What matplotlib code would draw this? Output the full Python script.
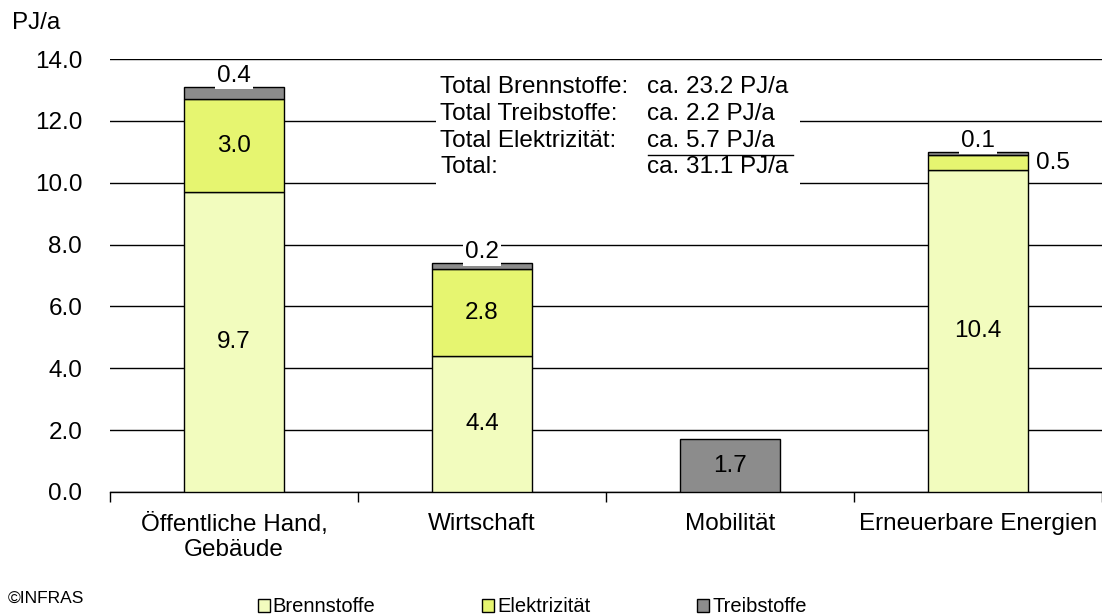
import numpy as np
import matplotlib.pyplot as plt
from matplotlib.patches import Rectangle

plt.rcParams['font.family'] = ['Liberation Sans', 'DejaVu Sans']

# Data
categories = ['Öffentliche Hand,\nGebäude', 'Wirtschaft', 'Mobilität', 'Erneuerbare Energien']
brennstoffe = [9.7, 4.4, 0.0, 10.4]
elektrizitaet = [3.0, 2.8, 0.0, 0.5]
treibstoffe = [0.4, 0.2, 1.7, 0.1]
series_names = ['Brennstoffe', 'Elektrizität', 'Treibstoffe']
colors = ['#F2FCBE', '#E6F570', '#8C8C8C']

total_labels = ['Total Brennstoffe:', 'Total Treibstoffe:', 'Total Elektrizität:', 'Total:']
total_values = ['ca. 23.2 PJ/a', 'ca. 2.2 PJ/a', 'ca. 5.7 PJ/a', 'ca. 31.1 PJ/a']

fs = 17.5

fig = plt.figure(figsize=(11.02, 6.15), dpi=100)
ax = fig.add_axes([0.0998, 0.2, 0.9002, 0.704])

x = np.arange(len(categories))
w = 0.4
b1 = np.array(brennstoffe)
b2 = np.array(elektrizitaet)
b3 = np.array(treibstoffe)

bars = []
bottom = np.zeros(len(x))
for vals, name, col in zip([b1, b2, b3], series_names, colors):
    h = ax.bar(x, vals, w, bottom=bottom, color=col, edgecolor='black',
               linewidth=1.0, label=name, zorder=3)
    bars.append(h)
    bottom = bottom + vals

ax.set_xlim(-0.5, 3.5)
ax.set_ylim(0, 14)
ax.set_yticks(np.arange(0, 14.1, 2))
ax.set_yticklabels([f'{v:.1f}' for v in np.arange(0, 14.1, 2)], fontsize=fs)
ax.yaxis.grid(True, color='black', linewidth=1.0, zorder=0)
ax.set_axisbelow(True)
for s in ['top', 'right', 'left']:
    ax.spines[s].set_visible(False)
ax.spines['bottom'].set_linewidth(1.0)
ax.tick_params(axis='y', length=0, pad=20)
ax.set_xticks(x)
ax.set_xticklabels(categories, fontsize=fs, linespacing=1.2)
ax.set_xticks(np.arange(-0.5, 3.6, 1), minor=True)
ax.tick_params(axis='x', which='major', length=0, pad=15)
ax.tick_params(axis='x', which='minor', length=7, width=1.0, direction='out')

# segment labels
for i in range(len(x)):
    if b1[i] >= 1:
        ax.text(x[i], b1[i] / 2, f'{b1[i]:.1f}', ha='center', va='center', fontsize=fs, zorder=5)
    if b2[i] >= 1:
        ax.text(x[i], b1[i] + b2[i] / 2, f'{b2[i]:.1f}', ha='center', va='center', fontsize=fs, zorder=5)
    elif b2[i] > 0:
        ax.text(x[i] + w / 2 + 0.035, b1[i] + b2[i] / 2, f'{b2[i]:.1f}', ha='left', va='center',
                fontsize=fs, zorder=5)
    top = b1[i] + b2[i] + b3[i]
    if b3[i] >= 1:
        ax.text(x[i], b1[i] + b2[i] + b3[i] / 2, f'{b3[i]:.1f}', ha='center', va='center', fontsize=fs, zorder=5)
    else:
        ax.annotate(f'{b3[i]:.1f}', (x[i], top), xytext=(0, 0), textcoords='offset points',
                    ha='center', va='bottom', fontsize=fs, zorder=5,
                    bbox=dict(boxstyle='square,pad=0.1', fc='white', ec='none'))

# totals text block
ax.add_patch(Rectangle((0.814, 9.6), 1.468, 4.1, facecolor='white', edgecolor='none', zorder=2))
line_y = [13.1, 12.23, 11.36, 10.5]
for yy, lab, val in zip(line_y, total_labels, total_values):
    ax.text(0.831, yy, lab, ha='left', va='center', fontsize=fs, zorder=5)
    ax.text(1.665, yy, val, ha='left', va='center', fontsize=fs, zorder=5)
ax.plot([1.669, 2.254], [10.9, 10.9], color='black', linewidth=1.0, zorder=5)

fig.text(0.011, 0.963, 'PJ/a', fontsize=fs, ha='left', va='center')
fig.text(0.007, 0.027, '©INFRAS', fontsize=12.5, ha='left', va='center')

fig.legend(handles=bars, labels=series_names, loc='lower left', bbox_to_anchor=(0.221, -0.025),
           ncol=3, frameon=False, fontsize=14.5, handlelength=0.6, handleheight=0.6,
           handletextpad=0.15, columnspacing=5.3, borderpad=0.2)

fig.savefig('out.png', dpi=100)
